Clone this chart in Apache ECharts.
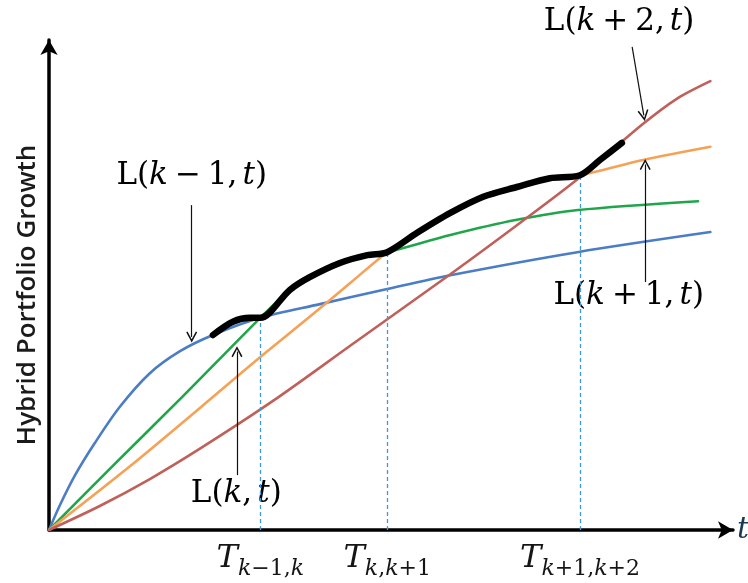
<!DOCTYPE html>
<html>
<head>
<meta charset="utf-8">
<script src="https://cdn.jsdelivr.net/npm/echarts@6/dist/echarts.min.js"></script>
<style>
  html, body { margin: 0; padding: 0; background: #fff; }
  #main { width: 748px; height: 583px; }
</style>
</head>
<body>
<div id="main"></div>
<script>
// curves: [t, growth]
const blueL = [[0,0],[1.6,5.1],[3.8,11.2],[6.7,17.8],[10.3,25.1],[14.7,32.0],[19.1,36.5],[23.9,39.8],[30.8,43.3],[39.5,46.1],[49.3,49.2],[58.5,52.0],[77.0,56.7],[96.4,60.8]]
const greenL = [[0,0],[9.3,13.1],[19.1,26.7],[30.8,43.3],[35.1,49.0],[38.0,51.6],[42.4,54.5],[46.4,56.1],[49.3,56.7],[58.5,60.2],[68.2,63.3],[77.1,65.3],[94.6,67.1]]
const orangeL = [[0,0],[11.8,13.0],[22.0,24.9],[30.8,35.3],[38.0,43.5],[43.9,50.4],[49.3,56.7],[53.6,60.6],[58.5,64.7],[63.3,68.0],[68.2,70.0],[73.0,71.8],[77.4,72.4],[86.6,75.5],[96.4,78.2]]
const brownL = [[0,0],[7.4,4.9],[14.7,10.4],[22.0,16.6],[32.7,26.4],[43.9,37.6],[58.5,52.2],[68.2,62.2],[77.4,72.0],[86.6,82.9],[91.5,88.0],[96.4,91.6]]
const hybrid = [[23.9,39.8],[26.8,42.5],[29.3,43.3],[30.8,43.3],[35.1,49.0],[38.0,51.6],[42.4,54.5],[46.4,56.1],[49.3,56.7],[53.6,60.6],[58.5,64.7],[63.3,68.0],[68.2,70.0],[73.0,71.8],[77.4,72.4],[80.3,75.5],[83.5,79.0]]

// switch times and where the curves meet
const switchT = [30.8, 49.3, 77.4]
const switchY = [43.3, 56.7, 72.4]
const switchLabels = ['{T|T}{si|k}{s|−1,}{si|k}', '{T|T}{si|k}{s|,}{si|k}{s|+1}', '{T|T}{si|k}{s|+1,}{si|k}{s|+2}']

// annotation arrows (from -> to) and their labels
const arrows = [
  [[20.8, 66.3], [20.8, 39.4]],
  [[27.4, 11.2], [27.4, 36.4]],
  [[86.9, 50.6], [86.9, 74.6]],
  [[85.0, 98.6], [86.7, 84.6]]
]
const curveNames = ['{u|L(}{i|k}{op|−}{u|1,}{sp|}{i|t}{u|)}', '{u|L(}{i|k}{u|,}{sp|}{i|t}{u|)}', '{u|L(}{i|k}{op|+}{u|1,}{sp|}{i|t}{u|)}', '{u|L(}{i|k}{op|+}{u|2,}{sp|}{i|t}{u|)}']
const namePos = [[20.8, 72.2], [27.3, 7.3], [84.5, 47.8], [83.1, 103.7]]

const serif = '"DejaVu Serif", "Liberation Serif", serif'
const mathRich = {
  u: { fontFamily: serif, fontSize: 31, color: '#151515' },
  i: { fontFamily: serif, fontSize: 31, fontStyle: 'italic', color: '#1b2b3a' },
  op: { fontFamily: serif, fontSize: 31, color: '#151515', padding: [0, 7, 0, 7] },
  sp: { width: 5 }
}
const subRich = {
  T: { fontFamily: serif, fontSize: 32, fontStyle: 'italic', color: '#151515' },
  si: { fontFamily: serif, fontSize: 22, fontStyle: 'italic', color: '#151515', padding: [20, 0, 0, 0] },
  s: { fontFamily: serif, fontSize: 22, color: '#151515', padding: [20, 0, 0, 0] }
}

const chart = echarts.init(document.getElementById('main'))

function curve(data, color, width, z) {
  return {
    type: 'line',
    data: data,
    smooth: 0.3,
    symbol: 'none',
    z: z,
    lineStyle: { color: color, width: width, cap: 'round', join: 'round' }
  }
}

const blue = curve(blueL, '#4a7dc6', 2.6, 3)
blue.markLine = {
  silent: true,
  symbol: ['none', 'path://M5,0 L10,8 L8.8,8.6 L5,2.4 L1.2,8.6 L0,8 Z'],
  symbolSize: [11, 11],
  label: { show: false },
  lineStyle: { color: '#111', width: 1.2, type: 'solid' },
  data: arrows.map(a => [{ coord: a[0] }, { coord: a[1] }])
}

const black = curve(hybrid, '#000', 6.5, 6)
black.markLine = {
  silent: true,
  symbol: 'none',
  label: { show: false },
  lineStyle: { color: '#3a9be0', width: 1.3, type: [4, 3] },
  data: switchT.map((t, i) => [{ coord: [t, 0] }, { coord: [t, switchY[i]] }])
}

chart.setOption({
  animation: false,
  grid: { left: 49, right: 15, top: 40, bottom: 53, outerBoundsMode: 'none', containLabel: false },
  xAxis: {
    type: 'value',
    min: 0,
    max: 99.7,
    name: 't',
    nameGap: 4,
    nameTextStyle: { fontFamily: serif, fontStyle: 'italic', fontSize: 30, color: '#1b3a52', padding: [0, 0, 6, 0] },
    axisLine: { lineStyle: { color: '#000', width: 3.5 }, symbol: ['none', 'arrow'], symbolSize: [13, 15] },
    axisTick: { show: false },
    splitLine: { show: false },
    axisLabel: {
      customValues: switchT,
      margin: 8,
      formatter: v => {
        let k = 0
        switchT.forEach((t, i) => { if (Math.abs(t - v) < Math.abs(switchT[k] - v)) k = i })
        return switchLabels[k]
      },
      rich: subRich
    }
  },
  yAxis: {
    type: 'value',
    min: 0,
    max: 100,
    name: 'Hybrid Portfolio Growth',
    nameLocation: 'middle',
    nameGap: 8,
    nameTextStyle: { fontFamily: '"Open Sans", sans-serif', fontSize: 26, fontWeight: 600, color: '#1a1a1a', padding: [0, 20, 0, 0] },
    axisLine: { lineStyle: { color: '#000', width: 3.5 }, symbol: ['none', 'arrow'], symbolSize: [13, 15] },
    axisTick: { show: false },
    axisLabel: { show: false },
    splitLine: { show: false }
  },
  series: [
    blue,
    curve(greenL, '#20a64a', 2.6, 3),
    curve(orangeL, '#f5a256', 2.6, 3),
    curve(brownL, '#c0605a', 2.6, 3),
    black
  ]
})

// curve labels placed through the axes' own scale
chart.setOption({
  graphic: namePos.map((p, i) => {
    const px = chart.convertToPixel({ gridIndex: 0 }, p)
    return {
      type: 'text',
      x: px[0],
      y: px[1],
      style: {
        text: curveNames[i],
        rich: mathRich,
        align: 'center',
        verticalAlign: 'middle'
      }
    }
  })
})
</script>
</body>
</html>
